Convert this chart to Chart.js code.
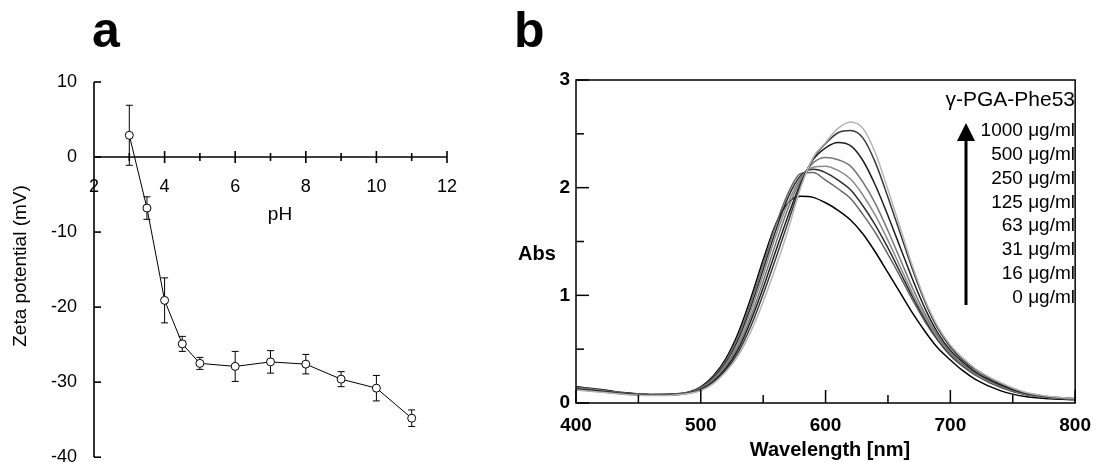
<!DOCTYPE html>
<html>
<head>
<meta charset="utf-8">
<script src="https://cdn.jsdelivr.net/npm/chart.js@4.4.0/dist/chart.umd.min.js"></script>
<style>
  html, body { margin: 0; padding: 0; background: #fff; overflow: hidden; }
  canvas { position: absolute; left: 0; top: 0; }
</style>
</head>
<body>
<canvas id="chartA" width="1102" height="485"></canvas>
<canvas id="chartB" width="1102" height="470"></canvas>
<script>
const FONT = "'Liberation Sans', Arial, sans-serif";

// panel a : zeta potential vs pH
const phValues   = [3, 3.5, 4, 4.5, 5, 6, 7, 8, 9, 10, 11];
const zetaValues = [2.9, -6.8, -19.1, -24.9, -27.5, -27.9, -27.3, -27.6, -29.6, -30.8, -34.8];
const zetaErrors = [4.0, 1.5, 3.0, 1.0, 0.8, 2.0, 1.5, 1.3, 1.0, 1.7, 1.1];

// panel b : absorbance spectra
const wavelengths = [400, 420, 440, 460, 480, 490, 500, 510, 520, 530, 540, 550, 560, 570, 580, 590,
                     600, 610, 620, 630, 640, 650, 660, 670, 680, 690, 700, 710, 720, 740, 760, 780, 800];
const abs1000 = [0.12, 0.10, 0.08, 0.07, 0.075, 0.088, 0.115, 0.18, 0.29, 0.44, 0.66, 0.94, 1.26, 1.61, 2.00, 2.28,
                 2.42, 2.55, 2.61, 2.55, 2.32, 1.98, 1.62, 1.26, 0.95, 0.71, 0.54, 0.42, 0.32, 0.19, 0.10, 0.06, 0.04];
const abs500  = [0.125, 0.105, 0.082, 0.072, 0.076, 0.09, 0.12, 0.19, 0.305, 0.47, 0.71, 1.01, 1.34, 1.68, 2.02, 2.27,
                 2.41, 2.51, 2.53, 2.46, 2.23, 1.91, 1.57, 1.23, 0.93, 0.69, 0.52, 0.40, 0.31, 0.18, 0.095, 0.058, 0.04];
const abs250  = [0.13, 0.11, 0.085, 0.073, 0.077, 0.092, 0.125, 0.20, 0.32, 0.50, 0.76, 1.07, 1.41, 1.74, 2.04, 2.26,
                 2.37, 2.42, 2.39, 2.25, 2.02, 1.74, 1.44, 1.14, 0.87, 0.65, 0.49, 0.38, 0.29, 0.17, 0.09, 0.055, 0.04];
const abs125  = [0.135, 0.112, 0.086, 0.074, 0.078, 0.094, 0.13, 0.21, 0.34, 0.53, 0.80, 1.13, 1.48, 1.81, 2.07, 2.23,
                 2.28, 2.26, 2.20, 2.05, 1.85, 1.60, 1.33, 1.06, 0.82, 0.62, 0.47, 0.36, 0.28, 0.16, 0.085, 0.052, 0.038];
const abs63   = [0.14, 0.115, 0.088, 0.075, 0.08, 0.096, 0.135, 0.22, 0.355, 0.56, 0.85, 1.19, 1.55, 1.86, 2.09, 2.19,
                 2.20, 2.16, 2.08, 1.93, 1.74, 1.51, 1.26, 1.01, 0.79, 0.60, 0.46, 0.355, 0.27, 0.155, 0.082, 0.05, 0.037];
const abs31   = [0.14, 0.118, 0.09, 0.077, 0.082, 0.098, 0.14, 0.23, 0.37, 0.59, 0.89, 1.24, 1.60, 1.91, 2.11, 2.17,
                 2.14, 2.07, 1.98, 1.83, 1.65, 1.44, 1.21, 0.98, 0.77, 0.59, 0.45, 0.35, 0.265, 0.15, 0.08, 0.05, 0.036];
const abs16   = [0.145, 0.12, 0.09, 0.078, 0.083, 0.10, 0.145, 0.24, 0.39, 0.62, 0.93, 1.29, 1.65, 1.95, 2.13, 2.14,
                 2.07, 1.99, 1.90, 1.75, 1.58, 1.38, 1.17, 0.95, 0.75, 0.58, 0.44, 0.34, 0.26, 0.145, 0.077, 0.048, 0.035];
const abs0    = [0.15, 0.125, 0.095, 0.08, 0.085, 0.10, 0.15, 0.25, 0.41, 0.65, 0.97, 1.33, 1.66, 1.86, 1.92, 1.91,
                 1.86, 1.79, 1.70, 1.57, 1.40, 1.21, 1.02, 0.83, 0.66, 0.51, 0.40, 0.30, 0.22, 0.115, 0.06, 0.04, 0.03];
const legendTitle = "γ-PGA-Phe53";
const concLabels = ["1000 μg/ml", "500 μg/ml", "250 μg/ml", "125 μg/ml", "63 μg/ml", "31 μg/ml", "16 μg/ml", "0 μg/ml"];

function line(ctx, x1, y1, x2, y2) {
  ctx.beginPath();
  ctx.moveTo(x1, y1);
  ctx.lineTo(x2, y2);
  ctx.stroke();
}

// error bars drawn behind the markers
const errorBars = {
  id: "errorBars",
  beforeDatasetsDraw(chart) {
    const { ctx, scales: { x, y } } = chart;
    ctx.save();
    ctx.strokeStyle = "#000";
    ctx.lineWidth = 1;
    phValues.forEach((ph, i) => {
      const px = x.getPixelForValue(ph);
      const top = y.getPixelForValue(zetaValues[i] + zetaErrors[i]);
      const bot = y.getPixelForValue(zetaValues[i] - zetaErrors[i]);
      line(ctx, px, top, px, bot);
      line(ctx, px - 3.5, top, px + 3.5, top);
      line(ctx, px - 3.5, bot, px + 3.5, bot);
    });
    ctx.restore();
  }
};

// axes, inner ticks and texts for panel a
const axesA = {
  id: "axesA",
  beforeDatasetsDraw(chart) {
    const { ctx, chartArea, scales: { x, y } } = chart;
    const zeroY = y.getPixelForValue(0);
    ctx.save();
    ctx.strokeStyle = "#000";
    ctx.lineWidth = 1.6;
    line(ctx, chartArea.left, chartArea.top, chartArea.left, chartArea.bottom);
    line(ctx, chartArea.left, zeroY, x.getPixelForValue(12), zeroY);
    y.ticks.forEach(t => {
      const py = y.getPixelForValue(t.value);
      line(ctx, chartArea.left, py, chartArea.left + 7, py);
    });
    x.ticks.forEach(t => {
      if (t.value > 2) {
        const px = x.getPixelForValue(t.value);
        line(ctx, px, zeroY - 6, px, zeroY + 6);
        const pm = x.getPixelForValue(t.value - 1);
        line(ctx, pm, zeroY - 4, pm, zeroY + 4);
      }
    });
    ctx.fillStyle = "#000";
    ctx.font = "bold 50px " + FONT;
    ctx.textAlign = "left";
    ctx.textBaseline = "alphabetic";
    ctx.fillText("a", 92, 47);
    ctx.font = "19px " + FONT;
    ctx.textAlign = "center";
    ctx.textBaseline = "middle";
    ctx.fillText("pH", 280, 215);
    ctx.translate(21, 266);
    ctx.rotate(-Math.PI / 2);
    ctx.fillText("Zeta potential (mV)", 0, 0);
    ctx.restore();
  }
};

// frame, inner ticks, legend and texts for panel b
const axesB = {
  id: "axesB",
  afterDraw(chart) {
    const { ctx, chartArea, scales: { x, y } } = chart;
    ctx.save();
    ctx.strokeStyle = "#000";
    ctx.lineWidth = 1.5;
    ctx.strokeRect(chartArea.left, chartArea.top, chartArea.right - chartArea.left, chartArea.bottom - chartArea.top);
    y.ticks.forEach(t => {
      const py = y.getPixelForValue(t.value);
      const len = Number.isInteger(t.value) ? 13 : 8;
      line(ctx, chartArea.left, py, chartArea.left + len, py);
    });
    x.ticks.forEach(t => {
      const px = x.getPixelForValue(t.value);
      const len = t.value % 100 === 0 ? 13 : 8;
      line(ctx, px, chartArea.bottom, px, chartArea.bottom - len);
    });
    ctx.fillStyle = "#000";
    ctx.font = "bold 50px " + FONT;
    ctx.textAlign = "left";
    ctx.textBaseline = "alphabetic";
    ctx.fillText("b", 514, 47);
    ctx.font = "bold 20px " + FONT;
    ctx.textBaseline = "middle";
    ctx.fillText("Abs", 518, 254);
    ctx.textAlign = "center";
    ctx.fillText("Wavelength [nm]", 830, 450);
    ctx.textAlign = "right";
    ctx.font = "21px " + FONT;
    ctx.fillText(legendTitle, 1075, 100);
    ctx.font = "19px " + FONT;
    concLabels.forEach((lab, i) => ctx.fillText(lab, 1075, 131 + i * 23.8));
    // arrow
    ctx.lineWidth = 3;
    line(ctx, 966, 305, 966, 138);
    ctx.beginPath();
    ctx.moveTo(966, 123);
    ctx.lineTo(957, 141);
    ctx.lineTo(975, 141);
    ctx.closePath();
    ctx.fill();
    ctx.restore();
  }
};

new Chart(document.getElementById("chartA").getContext("2d"), {
  type: "line",
  data: {
    datasets: [{
      data: phValues.map((ph, i) => ({ x: ph, y: zetaValues[i] })),
      borderColor: "#000",
      borderWidth: 1,
      pointRadius: 4,
      pointBackgroundColor: "#fff",
      pointBorderColor: "#000",
      pointBorderWidth: 1,
      tension: 0
    }]
  },
  options: {
    responsive: false,
    animation: false,
    devicePixelRatio: 1,
    layout: { padding: { left: 0, top: 82, right: 655, bottom: 14 } },
    plugins: { legend: { display: false }, tooltip: { enabled: false } },
    scales: {
      x: {
        type: "linear",
        min: 2,
        max: 12,
        position: { y: 0 },
        grid: { display: false, drawTicks: false },
        border: { display: false },
        ticks: { stepSize: 2, color: "#000", padding: 19, maxRotation: 0, font: { family: FONT, size: 18 } }
      },
      y: {
        min: -40,
        max: 10,
        grid: { display: false, drawTicks: false },
        border: { display: false },
        ticks: { stepSize: 10, color: "#000", padding: 17, font: { family: FONT, size: 18 } },
        afterFit: s => { s.width = 94; }
      }
    }
  },
  plugins: [axesA, errorBars]
});

const spectra = [
  { label: concLabels[0], values: abs1000, color: "#b5b5b5" },
  { label: concLabels[1], values: abs500,  color: "#3a3a3a" },
  { label: concLabels[2], values: abs250,  color: "#1e1e1e" },
  { label: concLabels[3], values: abs125,  color: "#777777" },
  { label: concLabels[4], values: abs63,   color: "#8a8a8a" },
  { label: concLabels[5], values: abs31,   color: "#2c2c2c" },
  { label: concLabels[6], values: abs16,   color: "#666666" },
  { label: concLabels[7], values: abs0,    color: "#000000" }
];

new Chart(document.getElementById("chartB").getContext("2d"), {
  type: "line",
  data: {
    datasets: spectra.map(s => ({
      label: s.label,
      data: wavelengths.map((w, i) => ({ x: w, y: s.values[i] })),
      borderColor: s.color,
      borderWidth: 1.5,
      pointRadius: 0,
      cubicInterpolationMode: "monotone",
      fill: false
    }))
  },
  options: {
    responsive: false,
    animation: false,
    devicePixelRatio: 1,
    layout: { padding: { left: 0, top: 80, right: 19, bottom: 0 } },
    plugins: { legend: { display: false }, tooltip: { enabled: false } },
    scales: {
      x: {
        type: "linear",
        min: 400,
        max: 800,
        grid: { display: false, drawTicks: false },
        border: { display: false },
        ticks: {
          stepSize: 50, autoSkip: false, color: "#000", padding: 11, maxRotation: 0,
          font: { family: FONT, size: 19, weight: "bold" },
          callback: v => (v % 100 === 0 ? v : "")
        },
        afterFit: s => { s.height = 67; }
      },
      y: {
        min: 0,
        max: 3,
        grid: { display: false, drawTicks: false },
        border: { display: false },
        ticks: {
          stepSize: 0.5, autoSkip: false, color: "#000", padding: 6,
          font: { family: FONT, size: 19, weight: "bold" },
          callback: v => (Number.isInteger(v) ? v : "")
        },
        afterFit: s => { s.width = 576; }
      }
    }
  },
  plugins: [axesB]
});
</script>
</body>
</html>
